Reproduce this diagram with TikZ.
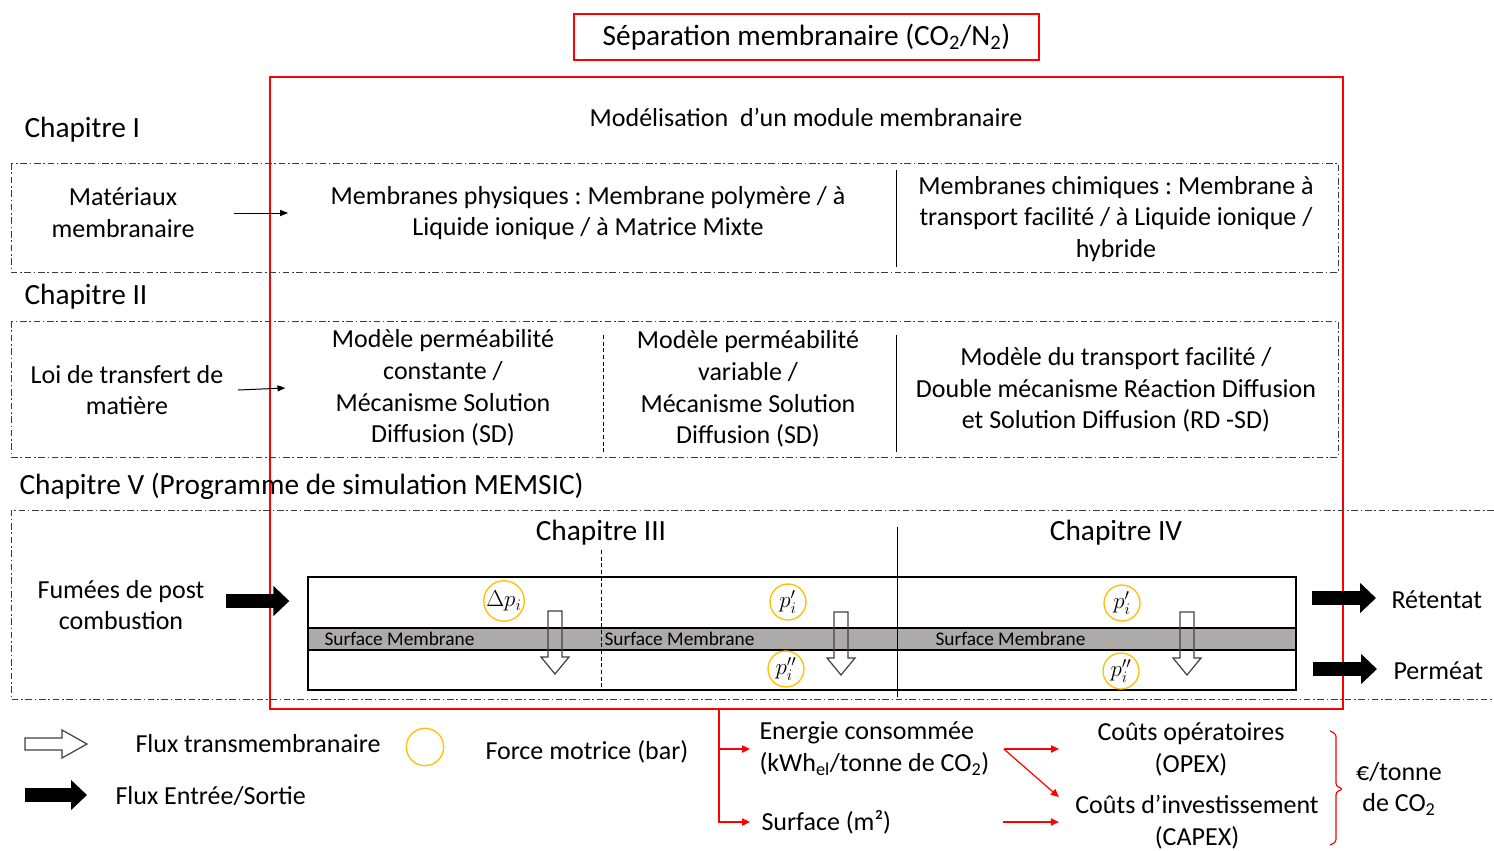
\documentclass[tikz,border=0pt]{standalone}
\usepackage[no-math]{fontspec}
\setmainfont{Carlito}
\usetikzlibrary{arrows.meta}
\frenchspacing

\definecolor{bandGray}{RGB}{174,170,170}
\definecolor{forceYellow}{RGB}{255,192,0}
\definecolor{dashGray}{RGB}{60,60,60}

\tikzset{every picture/.style={line width=0.75pt}}
\tikzset{
  txt/.style={inner sep=0.75pt, align=center, font=\fontsize{19.5}{23.8}\selectfont},
  chap/.style={inner sep=0.75pt, anchor=west, font=\fontsize{22}{26}\selectfont},
  smalltxt/.style={inner sep=0.75pt, anchor=west, font=\fontsize{14.5}{16}\selectfont},
  dashdot/.style={draw=dashGray, dash pattern=on 5pt off 2pt on 1.2pt off 2pt},
  shortdash/.style={dash pattern=on 3pt off 2pt},
  redbox/.style={draw=red, line width=1pt},
  force/.style={circle, draw=forceYellow, line width=1pt, minimum size=27pt, inner sep=0pt, font=\fontsize{17}{17}\selectfont},
  fatarrow/.style={line width=10.5pt, -{Triangle[length=12pt,width=22pt]}},
  redarrow/.style={draw=red, line width=0.9pt, -{Triangle[length=6pt,width=5.5pt]}},
  thinarrow/.style={-{Triangle[length=6pt,width=4.5pt]}},
  flowdown/.pic={\draw[draw=black!75, line width=0.9pt] (-7,0) -- (7,0) -- (7,-46) -- (14,-46) -- (0,-63) -- (-14,-46) -- (-7,-46) -- cycle;},
  flowright/.pic={\draw[fill=white, draw=black!75, line width=0.9pt] (0,-6) -- (37,-6) -- (37,-14) -- (62,0) -- (37,14) -- (37,6) -- (0,6) -- cycle;}
}

\begin{document}
\begin{tikzpicture}[x=0.75pt,y=0.75pt,yscale=-1,xscale=1]
	\useasboundingbox (0,0) rectangle (1494,850);
	
	% Title
	\node[txt, draw=red, line width=1pt, minimum width=348.75pt, minimum height=34.5pt, font=\fontsize{22}{26}\selectfont] (title) at (806.5,37) {Séparation membranaire (CO\textsubscript{2}/N\textsubscript{2})};
	%Shape: Rectangle (module model)
	\draw[redbox] (270,77) rectangle (1343,709);
	\coordinate (treeTop) at (719,709);
	% Text Node
	\node[txt] (modele) at (806,117) {Modélisation\ \ d’un module membranaire};
	
	% Chapitre I
	\node[chap] (chapI) at (23,130) {Chapitre I};
	\draw[dashdot] (11,163) rectangle (1338,272);
	\node[txt] (mat) at (123,213) {Matériaux\\membranaire};
	\node[txt] (phys) at (588,213) {Membranes physiques : Membrane polymère / à\\Liquide ionique / à Matrice Mixte};
	\draw (896,170) -- (896,267);
	\node[txt] (chim) at (1116,219) {Membranes chimiques : Membrane à\\transport facilité / à Liquide ionique /\\hybride};
	\draw[thinarrow] ([shift={(38,0)}]mat.east) -- ([shift={(-41,0)}]phys.west);
	
	% Chapitre II
	\node[chap] (chapII) at (23,297) {Chapitre II};
	\draw[dashdot] (11,321) rectangle (1338,457);
	\node[txt] (loi) at (127,390) {Loi de transfert de\\matière};
	\node[txt] (permA) at (443,388) {Modèle perméabilité\\constante /\\Mécanisme Solution\\Diffusion (SD)};
	\draw[shortdash] (603,335) -- (603,452);
	\node[txt] (permB) at (748,389) {Modèle perméabilité\\variable /\\Mécanisme Solution\\Diffusion (SD)};
	\draw (896,335) -- (896,452);
	\node[txt] (transp) at (1116,390) {Modèle du transport facilité /\\Double mécanisme Réaction Diffusion\\et Solution Diffusion (RD -SD)};
	\draw[thinarrow] ([shift={(13,0)}]loi.east) -- ([shift={(-45,0)}]permA.west);
	
	% Chapitre V
	\node[chap] (chapV) at (18,486) {Chapitre V (Programme de simulation MEMSIC)};
	\draw[dashdot] (1494,510) -- (11,510) -- (11,699) -- (1494,699);
	\node[chap, anchor=center] (chapIII) at (601,533) {Chapitre III};
	\node[chap, anchor=center] (chapIV) at (1116,533) {Chapitre IV};
	
	%Shape: Rectangle (membrane module)
	\node[draw, line width=1pt, minimum width=741pt, minimum height=84.75pt, inner sep=0pt] (mod) at (802,633.5) {};
	\draw[fill=bandGray, line width=1pt] (308,628) rectangle (1296,650);
	\draw[shortdash] (601,550) -- (601,690);
	\draw (897,527) -- (897,697);
	\node[smalltxt] (surfA) at (323,639) {Surface Membrane};
	\node[smalltxt] (surfB) at (603,639) {Surface Membrane};
	\node[smalltxt] (surfC) at (934,639) {Surface Membrane};
	
	% Force motrice
	\node[force] (dpA) at (504,601) {$\Delta p_i$};
	\node[force] (pA1) at (788,602) {$p_i'$};
	\node[force] (pA2) at (786,669) {$p_i''$};
	\node[force] (pB1) at (1122,603) {$p_i'$};
	\node[force] (pB2) at (1121,671) {$p_i''$};
	
	% Flux transmembranaire
	\pic at (555,611) {flowdown};
	\pic at (841,612) {flowdown};
	\pic at (1187,612) {flowdown};
	
	% Entree / Sortie
	\node[txt] (fum) at (121,605) {Fumées de post\\combustion};
	\draw[fatarrow] ([shift={(20,-4)}]fum.east) -- ([shift={(-18,-32.5)}]mod.west);
	\node[txt, anchor=west] (ret) at (1390,600) {Rétentat};
	\node[txt, anchor=west] (perm) at (1392,671) {Perméat};
	\draw[fatarrow] ([shift={(-78,-2)}]ret.west) -- ([shift={(-14,-2)}]ret.west);
	\draw[fatarrow] ([shift={(-79,-2)}]perm.west) -- ([shift={(-15,-2)}]perm.west);
	
	% Legend
	\pic at (25,744) {flowright};
	\node[txt, anchor=west] (legFlux) at (134,744) {Flux transmembranaire};
	\node[force, minimum size=28pt] (legForce) at (425,747) {};
	\node[txt, anchor=west] (legForceTxt) at (484,752) {Force motrice (bar)};
	\draw[fatarrow] (25,795) -- (87,795);
	\node[txt, anchor=west] (legIO) at (114,796) {Flux Entrée/Sortie};
	
	% Couts
	\node[txt, anchor=west, align=left] (ener) at (758,749) {Energie consommée\\(kWh\textsubscript{el}/tonne de CO\textsubscript{2})};
	\node[txt, anchor=west] (surf) at (760,822) {Surface (m²)};
	\draw[redarrow] (treeTop) |- ([shift={(-8,0)}]ener.west);
	\draw[redarrow] (treeTop) |- ([shift={(-10,0)}]surf.west);
	\node[txt] (opex) at (1191,749) {Coûts opératoires\\(OPEX)};
	\node[txt] (capex) at (1197,822) {Coûts d’investissement\\(CAPEX)};
	\draw[redarrow] ([shift={(13,0)}]ener.east) -- ([shift={(-37,0)}]opex.west);
	\draw[redarrow] ([shift={(13,0)}]ener.east) -- ([shift={(-15,-25)}]capex.west);
	\draw[redarrow] ([shift={(-71,0)}]capex.west) -- ([shift={(-15,0)}]capex.west);
	\draw[draw=red, line width=0.9pt, rounded corners=2pt] (1330,731) -- (1336,734) -- (1336,786) -- (1343,789) -- (1336,792) -- (1336,842) -- (1330,845);
	\node[txt] (unit) at (1399,789) {€/tonne\\de CO\textsubscript{2}};
	
\end{tikzpicture}
\end{document}
